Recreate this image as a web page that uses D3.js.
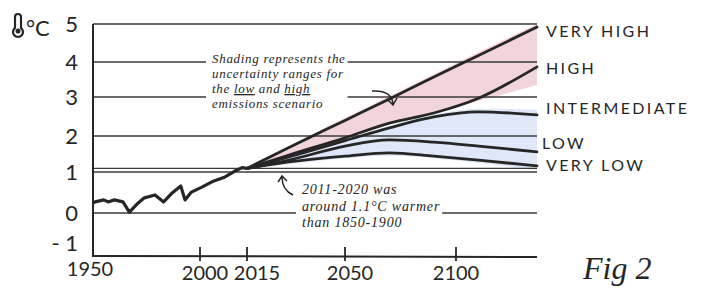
<!DOCTYPE html>
<html>
<head>
<meta charset="utf-8">
<script src="https://cdn.jsdelivr.net/npm/d3@7"></script>
<style>
  body { margin: 0; background: #fff; }
  svg { display: block; }
</style>
</head>
<body>
<div id="chart"></div>
<script>
// observed warming, 1950 - 2015
var histYears = [1950, 1951, 1955, 1957, 1960, 1964, 1967, 1971, 1974, 1979, 1983, 1987, 1991, 1993, 1996, 2000.6, 2003.8, 2008, 2011, 2013.4, 2015];
var histValues = [0.24, 0.27, 0.32, 0.27, 0.32, 0.27, 0.02, 0.24, 0.37, 0.44, 0.27, 0.49, 0.66, 0.32, 0.51, 0.63, 0.76, 0.88, 1.02, 1.12, 1.1];

// scenarios
var scenYears = [2015, 2030, 2050, 2070, 2090, 2110, 2136];
var veryHigh = [1.1, 1.68, 2.40, 2.95, 3.57, 4.17, 4.92];
var high = [1.1, 1.47, 1.95, 2.33, 2.59, 2.97, 3.86];
var intermediate = [1.1, 1.42, 1.87, 2.21, 2.49, 2.62, 2.54];
var low = [1.1, 1.33, 1.72, 1.89, 1.83, 1.72, 1.56];
var veryLow = [1.1, 1.28, 1.44, 1.53, 1.44, 1.33, 1.17];

// uncertainty shading
var pinkUpper = [1.1, 1.72, 2.46, 3.02, 3.65, 4.26, 5.0];
var pinkLower = [1.1, 1.45, 1.93, 2.30, 2.59, 2.90, 3.34];
var blueUpper = [1.1, 1.45, 1.90, 2.25, 2.55, 2.70, 2.67];
var blueLower = [1.1, 1.22, 1.38, 1.45, 1.38, 1.25, 1.05];

var scenNames = ["VERY HIGH", "HIGH", "INTERMEDIATE", "LOW", "VERY LOW"];
var yTicks = [-1, 0, 1, 2, 3, 4, 5];
var gridValues = [0, 1, 1.1, 2, 3, 4, 5];
var xTicks = [2000, 2015, 2050, 2100];
var xLabels = ["1950", "2000", "2015", "2050", "2100"];

var width = 715, height = 298;

var svg = d3.select("#chart")
    .append("svg")
    .attr("width", width)
    .attr("height", height);

// hand drawn axes are uneven, so piecewise scales
var x = d3.scaleLinear()
    .domain([1950, 2000, 2015, 2050, 2100, 2136])
    .range([93, 200, 247, 345, 456, 537]);

var y = d3.scaleLinear()
    .domain([-1, 0, 1, 2, 3, 4, 5])
    .range([255, 213, 172, 136, 97, 62, 24]);

var ink = "#262626";

// shading
function band(upper, lower) {
    return d3.area()
        .x(function(d, i) { return x(scenYears[i]); })
        .y0(function(d, i) { return y(lower[i]); })
        .y1(function(d, i) { return y(upper[i]); })
        .curve(d3.curveMonotoneX)(scenYears);
}
svg.append("path").attr("d", band(pinkUpper, pinkLower)).attr("fill", "#f2d5da");
svg.append("path").attr("d", band(blueUpper, blueLower)).attr("fill", "#dfe8f8");

// grid lines
svg.append("g")
    .selectAll("line")
    .data(gridValues)
    .enter()
    .append("line")
    .attr("x1", x(1950))
    .attr("x2", x(2136))
    .attr("y1", function(d) { return y(d); })
    .attr("y2", function(d) { return y(d); })
    .attr("stroke", "#3a3a3a")
    .attr("stroke-width", 1.4);

// axes
svg.append("line")
    .attr("x1", x(1950)).attr("x2", x(1950))
    .attr("y1", y(5)).attr("y2", y(-1) + 2)
    .attr("stroke", ink).attr("stroke-width", 2);
svg.append("line")
    .attr("x1", x(1950)).attr("x2", x(2136))
    .attr("y1", y(-1) + 1).attr("y2", y(-1) + 2)
    .attr("stroke", ink).attr("stroke-width", 2);
svg.append("g")
    .selectAll("line")
    .data(xTicks)
    .enter()
    .append("line")
    .attr("x1", function(d) { return x(d); })
    .attr("x2", function(d) { return x(d); })
    .attr("y1", y(-1) - 8)
    .attr("y2", y(-1) + 6)
    .attr("stroke", ink).attr("stroke-width", 1.8);

// tick labels
svg.append("g")
    .selectAll("text")
    .data(yTicks)
    .enter()
    .append("text")
    .attr("x", 78)
    .attr("y", function(d) { return d == -1 ? y(d) - 4 : y(d) + 8; })
    .attr("text-anchor", "end")
    .style("font-family", "Lato")
    .style("font-size", "22px")
    .style("fill", ink)
    .text(function(d) { return d == -1 ? "- 1" : d; });

var xLabelYears = [1950, 2000, 2015, 2050, 2100];
var xLabelShift = [-3, 5, 10, 5, 0];
svg.append("g")
    .selectAll("text")
    .data(xLabels)
    .enter()
    .append("text")
    .attr("x", function(d, i) { return x(xLabelYears[i]) + xLabelShift[i]; })
    .attr("y", function(d, i) { return i == 0 ? 276 : 280; })
    .attr("text-anchor", "middle")
    .style("font-family", "Lato")
    .style("font-size", "20px")
    .style("fill", ink)
    .text(function(d) { return d; });

// unit: thermometer + °C
svg.append("path")
    .attr("d", "M15,28 L15,17 Q15,14 18,14 Q21,14 21,17 L21,28 A5,5 0 1 1 15,28 Z")
    .attr("fill", "none").attr("stroke", ink).attr("stroke-width", 2.2);
svg.append("circle").attr("cx", 18).attr("cy", 31).attr("r", 2.5).attr("fill", ink);
svg.append("text")
    .attr("x", 26).attr("y", 36)
    .style("font-family", "Lato")
    .style("font-size", "22px")
    .style("fill", ink)
    .text("°C");

// annotations with white behind them (grid lines break around the writing)
function note(lines, x0, y0, lh, size, spacing) {
    var g = svg.append("g");
    var t = g.append("text")
        .style("font-family", "Liberation Serif")
        .style("font-style", "italic")
        .style("font-size", size + "px")
        .style("letter-spacing", spacing + "px")
        .style("fill", ink);
    lines.forEach(function(l, i) {
        var line = t.append("tspan").attr("x", x0).attr("y", y0 + i * lh);
        l.forEach(function(part) {
            var s = line.append("tspan").text(part[0]);
            if (part[1]) s.style("text-decoration", "underline");
        });
    });
    var b = t.node().getBBox();
    g.insert("rect", "text")
        .attr("x", b.x - 6).attr("y", b.y - 1)
        .attr("width", b.width + 8).attr("height", b.height + 2)
        .attr("fill", "#fff");
    return g;
}

note([
    [["Shading represents the"]],
    [["uncertainty ranges for"]],
    [["the "], ["low", true], [" and "], ["high", true]],
    [["emissions scenario"]]
], 212, 63, 15, 13, 0.7);

note([
    [["2011-2020 was"]],
    [["around 1.1°C warmer"]],
    [["than 1850-1900"]]
], 302, 194, 16.5, 14, 0.8);

// arrows
svg.append("path")
    .attr("d", "M372,91 Q392,90 393,104 M387,99 L393,105 L397,98")
    .attr("fill", "none").attr("stroke", ink).attr("stroke-width", 1.5);
svg.append("path")
    .attr("d", "M293,195 Q282,190 282,177 M278,182 L282,176 L287,181")
    .attr("fill", "none").attr("stroke", ink).attr("stroke-width", 1.5);

// lines
var histLine = d3.line()
    .x(function(d, i) { return x(histYears[i]); })
    .y(function(d) { return y(d); });
svg.append("path")
    .attr("d", histLine(histValues))
    .attr("fill", "none").attr("stroke", ink)
    .attr("stroke-width", 3.2).attr("stroke-linejoin", "round");

var scenLine = d3.line()
    .x(function(d, i) { return x(scenYears[i]); })
    .y(function(d) { return y(d); })
    .curve(d3.curveMonotoneX);
var scenarios = [veryHigh, high, intermediate, low, veryLow];
svg.append("g")
    .selectAll("path")
    .data(scenarios)
    .enter()
    .append("path")
    .attr("d", function(d) { return scenLine(d); })
    .attr("fill", "none").attr("stroke", ink)
    .attr("stroke-width", 2.8).attr("stroke-linecap", "round");

// scenario labels
var labelY = [31, 68, 108, 143, 165];
svg.append("g")
    .selectAll("text")
    .data(scenNames)
    .enter()
    .append("text")
    .attr("x", function(d, i) { return i == 3 ? 542 : 546; })
    .attr("y", function(d, i) { return labelY[i]; })
    .attr("dy", "0.36em")
    .style("font-family", "Lato")
    .style("font-size", "16px")
    .style("letter-spacing", "2.4px")
    .style("fill", ink)
    .text(function(d) { return d; });

svg.append("text")
    .attr("x", 583).attr("y", 279)
    .style("font-family", "Liberation Serif")
    .style("font-style", "italic")
    .style("font-size", "32px")
    .style("fill", ink)
    .text("Fig 2");
</script>
</body>
</html>
